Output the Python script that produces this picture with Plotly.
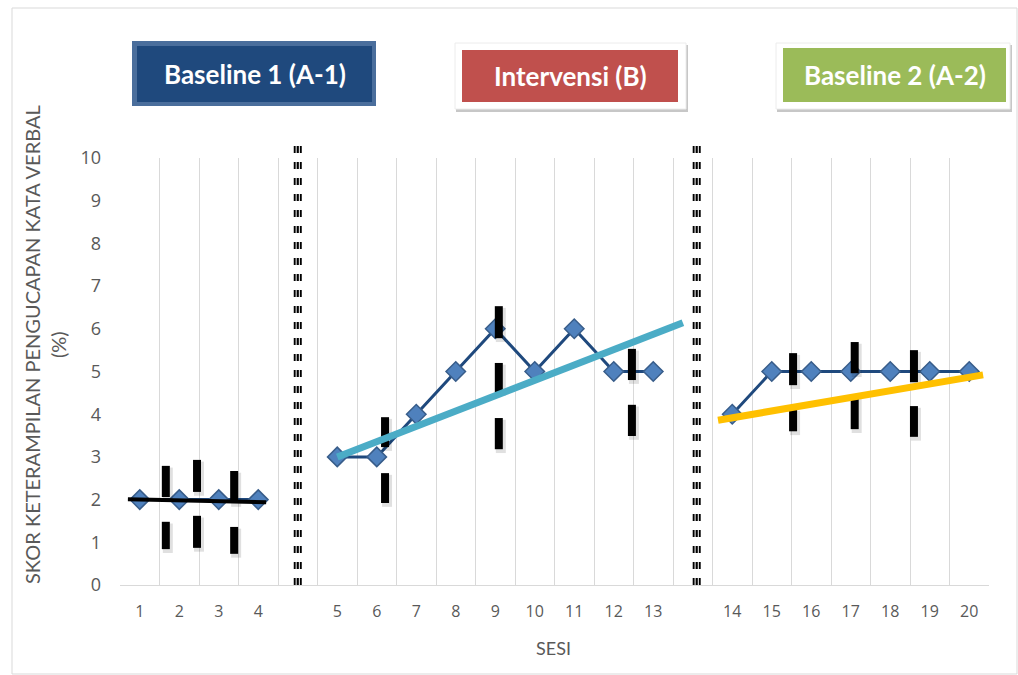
import plotly.graph_objects as go

# ---- data -------------------------------------------------------------
baseline1_sessions = [1, 2, 3, 4]
baseline1_scores = [2, 2, 2, 2]

intervention_sessions = [5, 6, 7, 8, 9, 10, 11, 12, 13]
intervention_scores = [3, 3, 4, 5, 6, 5, 6, 5, 5]

baseline2_sessions = [14, 15, 16, 17, 18, 19, 20]
baseline2_scores = [4, 5, 5, 5, 5, 5, 5]

phase_names = ["Baseline 1 (A-1)", "Intervensi (B)", "Baseline 2 (A-2)"]

# trend lines per phase (slot position, score)
trend_b1_x = [-0.3, 3.2]
trend_b1_y = [2.01, 1.94]
trend_int_x = [5.0, 13.75]
trend_int_y = [3.0, 6.14]
trend_b2_x = [14.64, 21.35]
trend_b2_y = [3.86, 4.92]

# split-middle marks: slot position, lower score, upper score
split_x = [0.66, 0.66, 1.45, 1.45, 2.39, 2.39, 6.21, 6.21, 9.09, 9.09, 9.09,
           12.46, 12.46, 16.54, 16.54, 18.1, 18.1, 19.6, 19.6]
split_lo = [2.06, 0.84, 2.18, 0.87, 1.92, 0.73, 3.23, 1.92, 5.78, 4.52, 3.18,
            4.8, 3.49, 4.68, 3.6, 4.96, 3.65, 4.75, 3.47]
split_hi = [2.79, 1.48, 2.93, 1.62, 2.67, 1.36, 3.93, 2.62, 6.53, 5.2, 3.91,
            5.53, 4.22, 5.43, 4.12, 5.69, 4.4, 5.5, 4.19]

# phase-change lines (slot position)
phase_lines = [4.0, 14.1]

y_ticks = list(range(0, 11))

# ---- slot layout: one empty slot between phases -----------------------
phases = [baseline1_sessions, intervention_sessions, baseline2_sessions]
slot_of = {}
slot = 0
for i, ph in enumerate(phases):
    for s in ph:
        slot_of[s] = slot
        slot += 1
    if i < len(phases) - 1:
        slot += 1
n_slots = slot

W, H = 1018, 675
L, R, T, B = 120, 29, 158, 90
PW, PH = W - L - R, H - T - B


def px(x):
    return (x - L) / PW


def py(y):
    return (H - B - y) / PH


fig = go.Figure()

LINE_C = "#1f497d"
MARK_C = "#4f81bd"
MARK_EDGE = "#385d8a"

for ph, sc in [(baseline1_sessions, baseline1_scores),
               (intervention_sessions, intervention_scores),
               (baseline2_sessions, baseline2_scores)]:
    fig.add_trace(go.Scatter(
        x=[slot_of[s] for s in ph], y=sc, mode="lines+markers",
        line=dict(color=LINE_C, width=3),
        marker=dict(symbol="diamond", size=15, color=MARK_C,
                    line=dict(color=MARK_EDGE, width=1.5)),
        showlegend=False, hoverinfo="x+y"))

shapes = []

# chart border
shapes.append(dict(type="rect", xref="paper", yref="paper",
                   x0=px(12), x1=px(1017), y0=py(674), y1=py(8),
                   line=dict(color="#d9d9d9", width=1), layer="below"))

# split-middle marks with a soft shadow
for x, lo, hi in zip(split_x, split_lo, split_hi):
    shapes.append(dict(type="rect", xref="x", yref="y", xsizemode="pixel",
                       xanchor=x, x0=-3, x1=7, y0=lo - 0.09, y1=hi - 0.04,
                       fillcolor="rgba(0,0,0,0.12)", line=dict(width=0),
                       layer="above"))
    shapes.append(dict(type="rect", xref="x", yref="y", xsizemode="pixel",
                       xanchor=x, x0=-4, x1=4, y0=lo, y1=hi,
                       fillcolor="#000000", line=dict(width=0), layer="above"))

# trend lines
for tx, ty, col, w in [(trend_b1_x, trend_b1_y, "#000000", 4),
                       (trend_int_x, trend_int_y, "#4bacc6", 7),
                       (trend_b2_x, trend_b2_y, "#ffc000", 7)]:
    shapes.append(dict(type="line", xref="x", yref="y",
                       x0=tx[0], y0=ty[0], x1=tx[1], y1=ty[1],
                       line=dict(color=col, width=w), layer="above"))

# phase-change lines: striped dashes
for xl in phase_lines:
    shapes.append(dict(type="line", xref="x", yref="paper",
                       x0=xl, x1=xl, y0=0, y1=py(138),
                       line=dict(color="#000000", width=8, dash="7px,9px"),
                       layer="above"))
    for off in (-1.6, 1.6):
        shapes.append(dict(type="line", xref="x", yref="paper",
                           x0=xl + off / (PW / n_slots), x1=xl + off / (PW / n_slots),
                           y0=0, y1=py(138),
                           line=dict(color="#ffffff", width=1),
                           layer="above"))

# phase label boxes
# Baseline 1: dark blue with lighter rim
shapes.append(dict(type="rect", xref="paper", yref="paper",
                   x0=px(132), x1=px(376), y0=py(106), y1=py(41),
                   fillcolor="#4a6e9c", line=dict(width=0)))
shapes.append(dict(type="rect", xref="paper", yref="paper",
                   x0=px(137), x1=px(372), y0=py(102), y1=py(46),
                   fillcolor="#1f497d", line=dict(width=0)))
# Intervensi & Baseline 2: white frame with shadow
for (ox0, ox1, oy0, oy1), (ix0, ix1, iy0, iy1), col in [
        ((455, 686, 43, 109), (462, 678, 50, 102), "#c0504d"),
        ((776, 1010, 43, 109), (783, 1006, 48, 102), "#9bbb59")]:
    shapes.append(dict(type="rect", xref="paper", yref="paper",
                       x0=px(ox0 + 1), x1=px(ox1 + 2), y0=py(oy1 + 3), y1=py(oy0 + 2),
                       fillcolor="rgba(0,0,0,0.22)", line=dict(width=0)))
    shapes.append(dict(type="rect", xref="paper", yref="paper",
                       x0=px(ox0), x1=px(ox1), y0=py(oy1), y1=py(oy0),
                       fillcolor="#ffffff", line=dict(color="#ececec", width=1)))
    shapes.append(dict(type="rect", xref="paper", yref="paper",
                       x0=px(ix0), x1=px(ix1), y0=py(iy1), y1=py(iy0),
                       fillcolor=col, line=dict(width=0)))

annotations = []
for name, cx, cy in zip(phase_names, [254.5, 570, 894.5], [74, 76, 75]):
    annotations.append(dict(text="<b>" + name + "</b>", xref="paper", yref="paper",
                            x=px(cx), y=py(cy), showarrow=False,
                            xanchor="center", yanchor="middle",
                            font=dict(family="Lato", size=26, color="#ffffff")))

annotations.append(dict(text="SKOR KETERAMPILAN PENGUCAPAN KATA VERBAL<br>(%)",
                        xref="paper", yref="paper", x=px(45), y=py(345),
                        textangle=-90, showarrow=False, xanchor="center",
                        yanchor="middle",
                        font=dict(family="Lato", size=20, color="#595959")))
annotations.append(dict(text="SESI", xref="paper", yref="paper",
                        x=px(553), y=py(648), showarrow=False,
                        xanchor="center", yanchor="middle",
                        font=dict(family="Lato", size=18, color="#595959")))

all_sessions = baseline1_sessions + intervention_sessions + baseline2_sessions

fig.update_layout(
    width=W, height=H,
    margin=dict(l=L, r=R, t=T, b=B),
    paper_bgcolor="#ffffff", plot_bgcolor="#ffffff",
    showlegend=False,
    shapes=shapes, annotations=annotations,
    xaxis=dict(range=[-0.5, n_slots - 0.5],
               tickmode="array",
               tickvals=[slot_of[s] for s in all_sessions],
               ticktext=[str(s) for s in all_sessions],
               showgrid=False, zeroline=False,
               showline=True, linecolor="#d9d9d9", linewidth=1,
               ticks="", ticklabelstandoff=12,
               tickfont=dict(family="Open Sans", size=16, color="#595959"),
               minor=dict(tick0=-0.5, dtick=1, showgrid=True,
                          gridcolor="#d9d9d9", gridwidth=1),
               fixedrange=True),
    yaxis=dict(range=[0, 10], tickmode="array", tickvals=y_ticks,
               showgrid=False, zeroline=False, showline=False,
               ticks="", ticklabelstandoff=18,
               tickfont=dict(family="Open Sans", size=18, color="#595959"),
               fixedrange=True),
)

fig.write_html("out.html")
